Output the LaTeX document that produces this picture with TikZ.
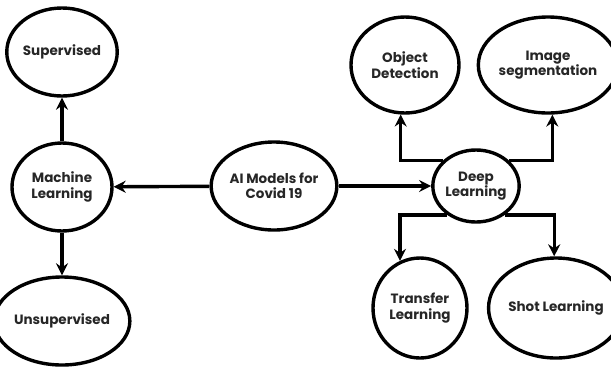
\documentclass[tikz,border=0pt]{standalone}
\usepackage{fontspec}
\setmainfont{Poppins}
\usetikzlibrary{arrows.meta,shapes.geometric}
\definecolor{txt}{HTML}{262626}
\begin{document}
\begin{tikzpicture}[x=1pt,y=-1pt,
  bub/.style={ellipse, draw=black, line width=3.4pt, inner sep=0pt, align=center,
    text=txt, font=\fontsize{13.5}{15.5}\selectfont\bfseries},
  arr/.style={line width=3.4pt, -{Stealth[length=12pt,width=12pt,inset=4pt]}}]
\useasboundingbox (0,0) rectangle (611,368);
\node[bub, minimum width=100pt, minimum height=88pt] (sup) at (62,52) {Supervised};
\node[bub, minimum width=100pt, minimum height=88pt] (ml) at (62,187) {Machine\\Learning};
\node[bub, minimum width=100pt, minimum height=88pt] (uns) at (62,321) {Unsupervised};
\node[bub, minimum width=104pt, minimum height=88pt] (ai) at (274,186) {AI Models for\\Covid 19};
\node[bub, minimum width=82pt, minimum height=72pt] (deep) at (476,186) {Deep\\Learning};
\node[bub, minimum width=108pt, minimum height=96pt] (od) at (405,65) {Object\\Detection};
\node[bub, minimum width=112pt, minimum height=96pt] (is) at (548,65) {Image\\segmentation};
\node[bub, minimum width=94pt, minimum height=100pt] (tl) at (420,308) {Transfer\\Learning};
\node[bub, minimum width=104pt, minimum height=100pt] (sl) at (556,308) {Shot Learning};
\draw[arr] (ml) -- (sup);
\draw[arr] (ml) -- (uns);
\draw[arr] (ai) -- (ml);
\draw[arr] (ai) -- (deep);
\draw[arr] (deep.142) -| (od.265);
\draw[arr] (deep.38) -| (is.275);
\draw[arr] (deep.225) -| (tl.113);
\draw[arr] (deep.315) -| (sl.92);
\end{tikzpicture}
\end{document}
